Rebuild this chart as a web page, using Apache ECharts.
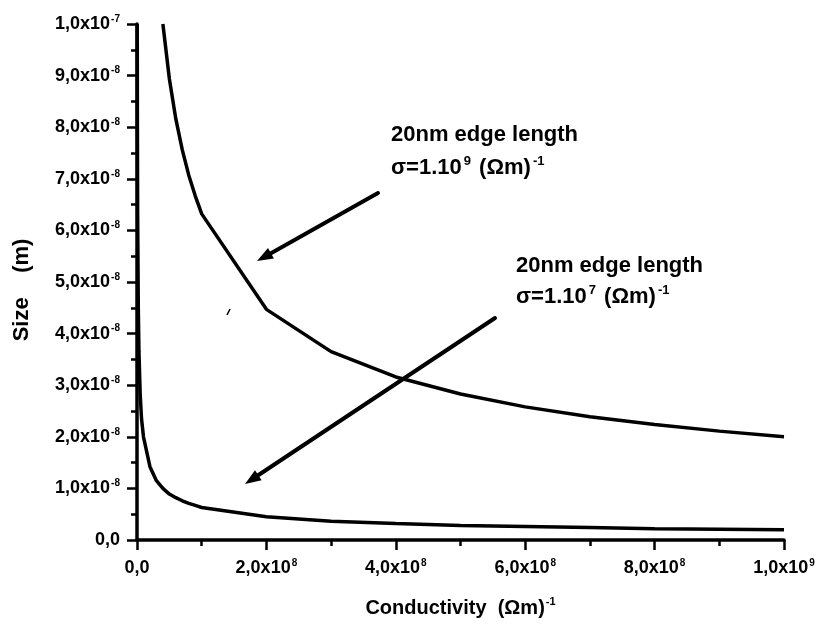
<!DOCTYPE html>
<html>
<head>
<meta charset="utf-8">
<script src="https://cdn.jsdelivr.net/npm/echarts/dist/echarts.min.js"></script>
<style>
html,body{margin:0;padding:0;background:#ffffff;}
#chart{width:821px;height:632px;}
</style>
</head>
<body>
<div id="chart"></div>
<script>
// ---- data ----
// upper curve: 20 nm edge length, sigma = 1e9 (Ohm m)^-1
const sigmaHigh = [4e7, 5e7, 6e7, 7e7, 8e7, 9e7, 1e8, 2e8, 3e8, 4e8, 5e8, 6e8, 7e8, 8e8, 9e8, 1e9];
const sizeHigh  = [1.0e-7, 8.94e-8, 8.16e-8, 7.56e-8, 7.07e-8, 6.67e-8, 6.32e-8, 4.47e-8, 3.65e-8, 3.16e-8, 2.83e-8, 2.58e-8, 2.39e-8, 2.24e-8, 2.11e-8, 2.0e-8];
// lower curve: 20 nm edge length, sigma = 1e7 (Ohm m)^-1
const sigmaLow = [4e5, 6e5, 1e6, 2e6, 3e6, 5e6, 7e6, 1e7, 2e7, 3e7, 4e7, 5e7, 6e7, 7e7, 8e7, 9e7, 1e8, 2e8, 3e8, 4e8, 5e8, 6e8, 7e8, 8e8, 9e8, 1e9];
const sizeLow  = [1.0e-7, 8.2e-8, 6.3e-8, 4.5e-8, 3.65e-8, 2.8e-8, 2.35e-8, 2.0e-8, 1.42e-8, 1.15e-8, 1.0e-8, 8.9e-9, 8.2e-9, 7.6e-9, 7.1e-9, 6.7e-9, 6.3e-9, 4.5e-9, 3.65e-9, 3.2e-9, 2.8e-9, 2.6e-9, 2.4e-9, 2.2e-9, 2.1e-9, 2.0e-9];

// tick labels
const xTickBase = ['0,0', '2,0x10', '4,0x10', '6,0x10', '8,0x10', '1,0x10'];
const xTickExp  = ['', '8', '8', '8', '8', '9'];
const yTickBase = ['0,0', '1,0x10', '2,0x10', '3,0x10', '4,0x10', '5,0x10', '6,0x10', '7,0x10', '8,0x10', '9,0x10', '1,0x10'];
const yTickExp  = ['', '-8', '-8', '-8', '-8', '-8', '-8', '-8', '-8', '-8', '-7'];

const FONT = "'Liberation Sans', Arial, sans-serif";

function pairs(xs, ys) { return xs.map((x, i) => [x, ys[i]]); }

function tickLabel(base, exp) {
  return exp ? '{b|' + base + '}{s|' + exp + '}' : '{b|' + base + '}';
}

const labelRich = {
  b: { fontFamily: FONT, fontSize: 18, fontWeight: 'bold', color: '#000', lineHeight: 20 },
  s: { fontFamily: FONT, fontSize: 10, fontWeight: 'bold', color: '#000', verticalAlign: 'top', lineHeight: 10, padding: [0, 0, 0, 1] }
};

const annRich = {
  a: { fontFamily: FONT, fontSize: 22, fontWeight: 'bold', fill: '#000', lineHeight: 26 },
  s: { fontFamily: FONT, fontSize: 13, fontWeight: 'bold', fill: '#000', verticalAlign: 'top', lineHeight: 12, padding: [0, 2, 0, 2] }
};

function arrow(x1, y1, x2, y2) {
  const dx = x2 - x1, dy = y2 - y1, L = Math.hypot(dx, dy);
  const ux = dx / L, uy = dy / L, hl = 16, hw = 6;
  const bx = x2 - ux * hl, by = y2 - uy * hl, px = -uy, py = ux;
  return [
    { type: 'line', shape: { x1: x1, y1: y1, x2: bx + ux * 2, y2: by + uy * 2 }, style: { stroke: '#000', lineWidth: 4, lineCap: 'round' } },
    { type: 'polygon', shape: { points: [[x2, y2], [bx + px * hw, by + py * hw], [bx - px * hw, by - py * hw]] }, style: { fill: '#000' } }
  ];
}

const chart = echarts.init(document.getElementById('chart'), null, { renderer: 'canvas' });

const option = {
  backgroundColor: '#ffffff',
  animation: false,
  grid: { left: 137, right: 37, top: 24, bottom: 92, containLabel: false, outerBoundsMode: 'none' },
  xAxis: {
    type: 'value', min: 0, max: 1e9, interval: 2e8,
    axisLine: { show: true, onZero: false, lineStyle: { color: '#000', width: 3.5 } },
    axisTick: { show: true, inside: false, length: 10, lineStyle: { color: '#000', width: 2.5 } },
    minorTick: { show: true, splitNumber: 2, length: 6, lineStyle: { color: '#000', width: 2.5 } },
    splitLine: { show: false },
    axisLabel: {
      margin: 18,
      formatter: function (v, i) { return tickLabel(xTickBase[i], xTickExp[i]); },
      rich: labelRich
    },
    name: '{b|Conductivity  (\u03A9m)}{s|-1}',
    nameLocation: 'middle', nameGap: 56, nameMoveOverlap: false,
    nameTextStyle: {
      rich: {
        b: { fontFamily: FONT, fontSize: 20, fontWeight: 'bold', color: '#000', lineHeight: 24 },
        s: { fontFamily: FONT, fontSize: 11, fontWeight: 'bold', color: '#000', verticalAlign: 'top', lineHeight: 11, padding: [0, 0, 0, 1] }
      }
    }
  },
  yAxis: {
    type: 'value', min: 0, max: 1e-7, interval: 1e-8,
    axisLine: { show: true, onZero: false, lineStyle: { color: '#000', width: 3.5 } },
    axisTick: { show: true, inside: false, length: 10, lineStyle: { color: '#000', width: 2.5 } },
    minorTick: { show: true, splitNumber: 2, length: 6, lineStyle: { color: '#000', width: 2.5 } },
    splitLine: { show: false },
    axisLabel: {
      margin: 17,
      formatter: function (v, i) { return tickLabel(yTickBase[i], yTickExp[i]); },
      rich: labelRich
    },
    name: 'Size    (m)',
    nameLocation: 'middle', nameGap: 104, nameRotate: 90, nameMoveOverlap: false,
    nameTextStyle: { fontFamily: FONT, fontSize: 22, fontWeight: 'bold', color: '#000', padding: [0, 16, 0, 0] }
  },
  series: [
    {
      type: 'line', name: 'sigma 1e9', data: pairs(sigmaHigh, sizeHigh),
      showSymbol: false, symbol: 'none', smooth: false, clip: true,
      lineStyle: { color: '#000', width: 3.5 }, z: 3
    },
    {
      type: 'line', name: 'sigma 1e7', data: pairs(sigmaLow, sizeLow),
      showSymbol: false, symbol: 'none', smooth: false, clip: true,
      lineStyle: { color: '#000', width: 3.5 }, z: 3
    }
  ],
  graphic: [
    { type: 'text', left: 391, top: 124, style: { text: '{a|20nm edge length}', rich: annRich } },
    { type: 'text', left: 391, top: 155, style: { text: '{a|\u03C3=1.10}{s|9}{a| (\u03A9m)}{s|-1}', rich: annRich } },
    { type: 'text', left: 516, top: 255, style: { text: '{a|20nm edge length}', rich: annRich } },
    { type: 'text', left: 516, top: 284, style: { text: '{a|\u03C3=1.10}{s|7}{a| (\u03A9m)}{s|-1}', rich: annRich } },
    { type: 'line', shape: { x1: 227, y1: 315, x2: 230, y2: 309 }, style: { stroke: '#000', lineWidth: 1.5 } }
  ].concat(arrow(378, 193, 257, 261)).concat(arrow(495, 318, 245, 484))
};

chart.setOption(option);
</script>
</body>
</html>
